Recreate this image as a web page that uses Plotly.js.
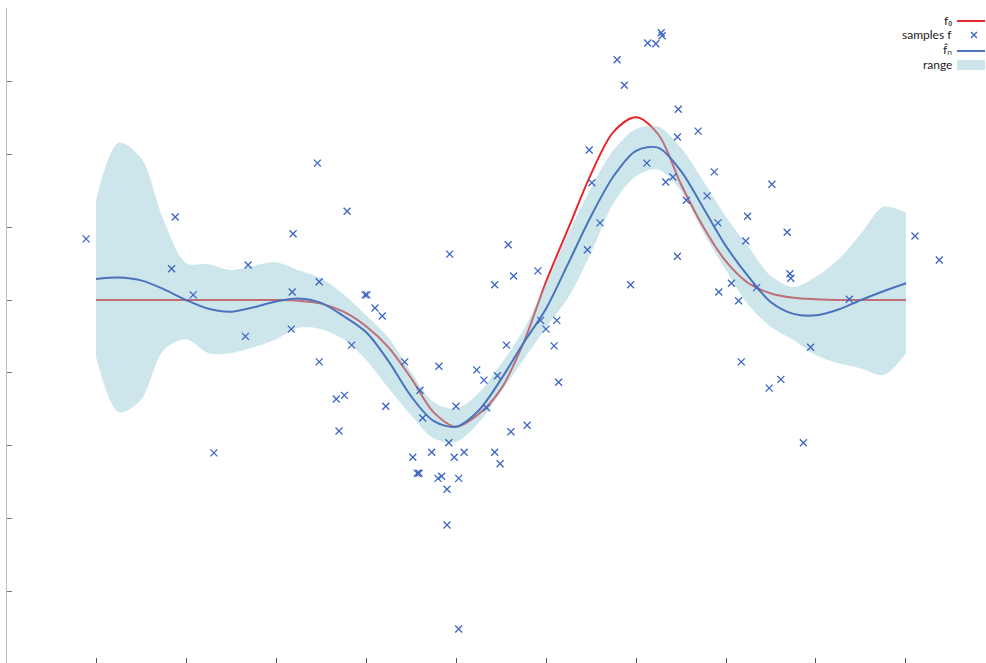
<!DOCTYPE html>
<html>
<head>
<meta charset="utf-8">
<script src="https://cdn.plot.ly/plotly-3.0.1.min.js"></script>
<style>
  html, body { margin: 0; padding: 0; background: #ffffff; }
  #chart { width: 986px; height: 663px; }
</style>
</head>
<body>
<div id="chart"></div>
<script>
// ---- data ----
const xGrid = [0, 0.25, 0.5, 0.75, 1, 1.25, 1.5, 1.75, 2, 2.25, 2.5, 2.75, 3, 3.25, 3.5, 3.75, 4, 4.25, 4.5, 4.75,
  5, 5.25, 5.5, 5.75, 6, 6.25, 6.5, 6.75, 7, 7.25, 7.5, 7.75, 8, 8.25, 8.5, 8.75, 9];

const f0Values = [0, 0, 0, 0, 0, 0, 0, 0, 0, -0.01, -0.05, -0.16, -0.36, -0.65, -1.07, -1.54, -1.74, -1.57, -1.22, -0.59,
  0.25, 0.99, 1.73, 2.31, 2.51, 2.27, 1.59, 1.00, 0.53, 0.23, 0.09, 0.03, 0.01, 0, 0, 0, 0];

const fhatValues = [0.29, 0.31, 0.27, 0.15, 0, -0.12, -0.16, -0.10, -0.02, 0.02, -0.04, -0.22, -0.44, -0.84, -1.32, -1.66, -1.74, -1.52, -1.09, -0.59,
  -0.12, 0.51, 1.15, 1.70, 2.05, 2.09, 1.77, 1.26, 0.74, 0.32, -0.03, -0.19, -0.21, -0.13, 0.00, 0.12, 0.23];

const rangeUpper = [1.37, 2.16, 1.95, 1.10, 0.51, 0.49, 0.41, 0.47, 0.52, 0.41, 0.30, 0.08, -0.21, -0.52, -0.99, -1.40, -1.49, -1.28, -0.88, -0.41,
  0.23, 0.92, 1.54, 2.06, 2.35, 2.38, 2.09, 1.63, 1.14, 0.73, 0.33, 0.18, 0.32, 0.56, 0.91, 1.28, 1.20];

const rangeLower = [-0.78, -1.54, -1.37, -0.69, -0.54, -0.73, -0.73, -0.65, -0.54, -0.38, -0.40, -0.54, -0.82, -1.21, -1.58, -1.90, -1.95, -1.69, -1.26, -0.82,
  -0.38, 0.04, 0.65, 1.33, 1.70, 1.79, 1.50, 0.92, 0.41, -0.07, -0.37, -0.55, -0.76, -0.87, -0.94, -1.03, -0.73];

const sampleX = [-0.11, 0.88, 0.84, 1.08, 1.31, 1.66, 1.69, 2.17, 2.18, 2.19, 2.46, 2.48, 2.48, 2.67, 2.70, 2.76, 2.79, 2.84, 2.99, 3.01,
  3.10, 3.18, 3.22, 3.43, 3.52, 3.57, 3.59, 3.60, 3.63, 3.73, 3.80, 3.84, 3.81, 3.90, 3.90, 3.92, 3.93, 3.98, 4.00, 4.03,
  4.03, 4.09, 4.23, 4.31, 4.34, 4.43, 4.43, 4.46, 4.49, 4.56, 4.58, 4.61, 4.64, 4.79, 4.91, 4.94, 5.00, 5.09, 5.12, 5.14,
  5.46, 5.48, 5.51, 5.60, 5.79, 5.87, 5.94, 6.12, 6.13, 6.22, 6.28, 6.29, 6.33, 6.41, 6.46, 6.46, 6.47, 6.56, 6.69, 6.79,
  6.87, 6.91, 6.92, 7.06, 7.14, 7.17, 7.22, 7.24, 7.34, 7.48, 7.51, 7.61, 7.68, 7.71, 7.72, 7.86, 7.94, 8.37, 9.10, 9.37];

const sampleY = [0.84, 1.14, 0.43, 0.07, -2.10, -0.50, 0.48, -0.40, 0.11, 0.91, 1.88, 0.25, -0.85, -1.36, -1.80, -1.31, 1.22, -0.62, 0.07, 0.07,
  -0.11, -0.22, -1.46, -0.85, -2.16, -2.38, -2.38, -1.24, -1.62, -2.09, -2.45, -2.42, -0.91, -2.60, -3.09, -1.96, 0.63, -2.16, -1.46, -2.45,
  -4.52, -2.09, -0.96, -1.10, -1.48, 0.21, -2.09, -1.04, -2.25, -0.62, 0.76, -1.81, 0.33, -1.72, 0.40, -0.28, -0.40, -0.63, -0.28, -1.13,
  0.69, 2.06, 1.61, 1.06, 3.30, 2.95, 0.21, 1.88, 3.53, 3.52, 3.67, 3.63, 1.62, 1.69, 0.60, 2.24, 2.62, 1.37, 2.32, 1.43,
  1.76, 1.06, 0.11, 0.23, -0.01, -0.85, 0.81, 1.15, 0.17, -1.21, 1.59, -1.09, 0.93, 0.36, 0.30, -1.96, -0.65, 0.01, 0.88, 0.55];

const xTicks = [0, 1, 2, 3, 4, 5, 6, 7, 8, 9];
const yTicks = [-4, -3, -2, -1, 0, 1, 2, 3, 4];

const legendLabels = ['f\u2080', 'samples f', 'f\u0302\u2099', 'range'];

// ---- styles ----
const RED = '#e8262c';
const BLUE_LINE = '#4a73bb';
const BLUE_MARK = '#3b64c3';
const BAND = 'rgba(142,199,213,0.45)';

const traces = [
  { x: xGrid, y: f0Values, type: 'scatter', mode: 'lines', name: 'f0',
    line: { color: RED, width: 2, shape: 'spline', smoothing: 0.9 }, hoverinfo: 'skip' },
  { x: xGrid, y: rangeLower, type: 'scatter', mode: 'lines', name: 'range lower',
    line: { color: 'rgba(0,0,0,0)', width: 0, shape: 'spline', smoothing: 0.9 }, hoverinfo: 'skip' },
  { x: xGrid, y: rangeUpper, type: 'scatter', mode: 'lines', name: 'range',
    fill: 'tonexty', fillcolor: BAND,
    line: { color: 'rgba(0,0,0,0)', width: 0, shape: 'spline', smoothing: 0.9 }, hoverinfo: 'skip' },
  { x: xGrid, y: fhatValues, type: 'scatter', mode: 'lines', name: 'fhat',
    line: { color: BLUE_LINE, width: 2, shape: 'spline', smoothing: 0.9 } },
  { x: sampleX, y: sampleY, type: 'scatter', mode: 'markers', name: 'samples f',
    marker: { symbol: 'x-thin-open', size: 7, color: BLUE_MARK, line: { color: BLUE_MARK, width: 1.3 } } }
];

// legend geometry (paper coords)
const legX0 = 0.9704, legX1 = 0.9990, legXm = 0.9877, legTextX = 0.9673;
const legY = [0.9802, 0.9588, 0.9359, 0.9130];

const annotations = legendLabels.map((t, i) => ({
  xref: 'paper', yref: 'paper', x: legTextX, y: legY[i], text: t,
  xanchor: 'right', yanchor: 'middle', showarrow: false,
  font: { family: 'Lato, "Open Sans", sans-serif', size: 12, color: '#222' }
}));

const shapes = [
  { type: 'line', xref: 'paper', yref: 'paper', x0: legX0, x1: legX1, y0: legY[0], y1: legY[0],
    line: { color: RED, width: 2 } },
  { type: 'path', xref: 'paper', yref: 'paper', xsizemode: 'pixel', ysizemode: 'pixel',
    xanchor: legXm, yanchor: legY[1], path: 'M-3,-3L3,3M-3,3L3,-3',
    line: { color: BLUE_MARK, width: 1.3 } },
  { type: 'line', xref: 'paper', yref: 'paper', x0: legX0, x1: legX1, y0: legY[2] - 0.0015, y1: legY[2] - 0.0015,
    line: { color: BLUE_LINE, width: 2 } },
  { type: 'rect', xref: 'paper', yref: 'paper', x0: legX0, x1: legX1, y0: 0.9053, y1: 0.9206,
    fillcolor: BAND, line: { width: 0 } }
];

const layout = {
  width: 986, height: 663,
  margin: { l: 7, r: 0, t: 8, b: 0, pad: 0 },
  paper_bgcolor: '#ffffff', plot_bgcolor: '#ffffff',
  showlegend: false,
  font: { family: 'Lato, "Open Sans", sans-serif', size: 12, color: '#222' },
  xaxis: {
    range: [-0.989, 9.889], showgrid: false, zeroline: false, showline: false,
    tickmode: 'array', tickvals: xTicks, ticks: 'inside', ticklen: 5, tickwidth: 1, tickcolor: '#555',
    showticklabels: false
  },
  xaxis2: {
    overlaying: 'x', matches: 'x', side: 'top', range: [-0.989, 9.889],
    showgrid: false, zeroline: false, showline: true, linecolor: '#333', linewidth: 2,
    tickmode: 'array', tickvals: xTicks, ticks: 'inside', ticklen: 5, tickwidth: 1, tickcolor: '#444',
    showticklabels: false
  },
  yaxis: {
    range: [-4.986, 4.011], showgrid: false, zeroline: false, showline: true, linecolor: '#bbb', linewidth: 1,
    tickmode: 'array', tickvals: yTicks, ticks: 'inside', ticklen: 5, tickwidth: 1, tickcolor: '#777',
    showticklabels: false
  },
  annotations: annotations,
  shapes: shapes
};

Plotly.newPlot('chart', traces, layout, { displayModeBar: false });
</script>
</body>
</html>
